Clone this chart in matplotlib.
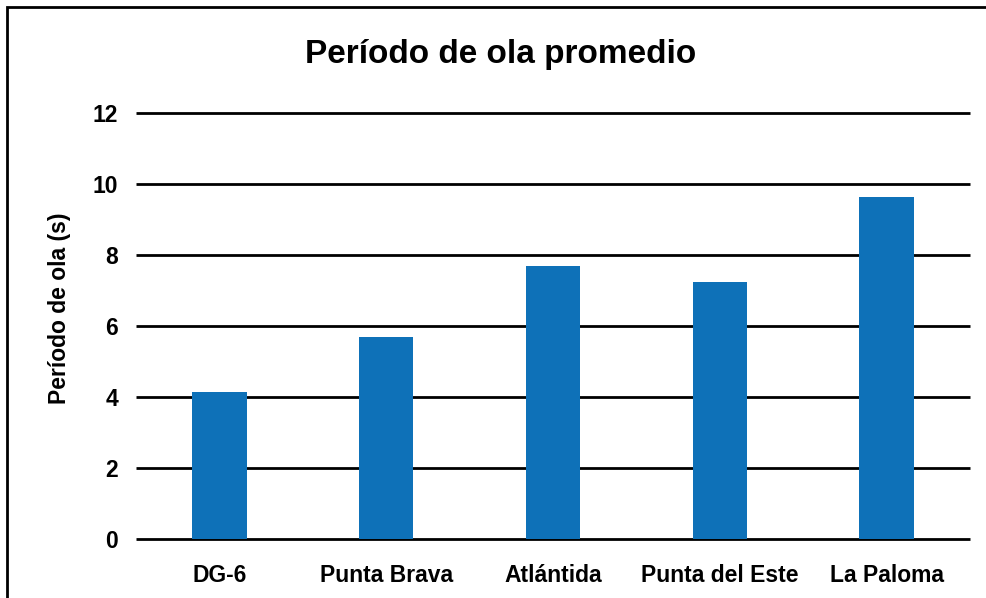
import matplotlib.pyplot as plt
from matplotlib.patches import Rectangle

plt.rcParams['font.family'] = ['Liberation Sans', 'DejaVu Sans']
plt.rcParams['font.weight'] = 'bold'

# data
estaciones = ['DG-6', 'Punta Brava', 'Atlántida', 'Punta del Este', 'La Paloma']
periodo = [4.14, 5.69, 7.69, 7.24, 9.63]
yticks = [0, 2, 4, 6, 8, 10, 12]

fig = plt.figure(figsize=(9.87, 5.98), dpi=100)
ax = fig.add_axes([136/987, 1-539/598, (970-136)/987, (539-113)/598])

ax.bar(range(len(estaciones)), periodo, width=0.325, color='#0E71B8', zorder=3)

ax.set_ylim(0, 12)
ax.set_xlim(-0.5, len(estaciones) - 0.5)
ax.set_yticks(yticks)
ax.set_xticks(range(len(estaciones)))
ax.set_xticklabels(estaciones)
ax.grid(axis='y', color='black', linewidth=2, zorder=1)
for gl in ax.yaxis.get_gridlines():
    gl.set_clip_on(False)
    gl.set_solid_capstyle('butt')
ax.tick_params(axis='both', length=0, labelsize=16.5)
ax.tick_params(axis='y', pad=13)
ax.tick_params(axis='x', pad=18)
for s in ax.spines.values():
    s.set_visible(False)

fig.text(501/987, 1-55/598, 'Período de ola promedio', ha='center', va='center',
         fontsize=24, fontweight='bold')
fig.text(60/987, 1-308/598, 'Período de ola (s)', ha='center', va='center',
         rotation=90, fontsize=16.5, fontweight='bold')

# chart frame (runs off the right and bottom edges)
fig.patches.append(Rectangle((7/987, -0.05), 1.1, 1 - 7/598 + 0.05,
                             transform=fig.transFigure, fill=False,
                             edgecolor='black', linewidth=2))

fig.savefig('out.png', dpi=100)
